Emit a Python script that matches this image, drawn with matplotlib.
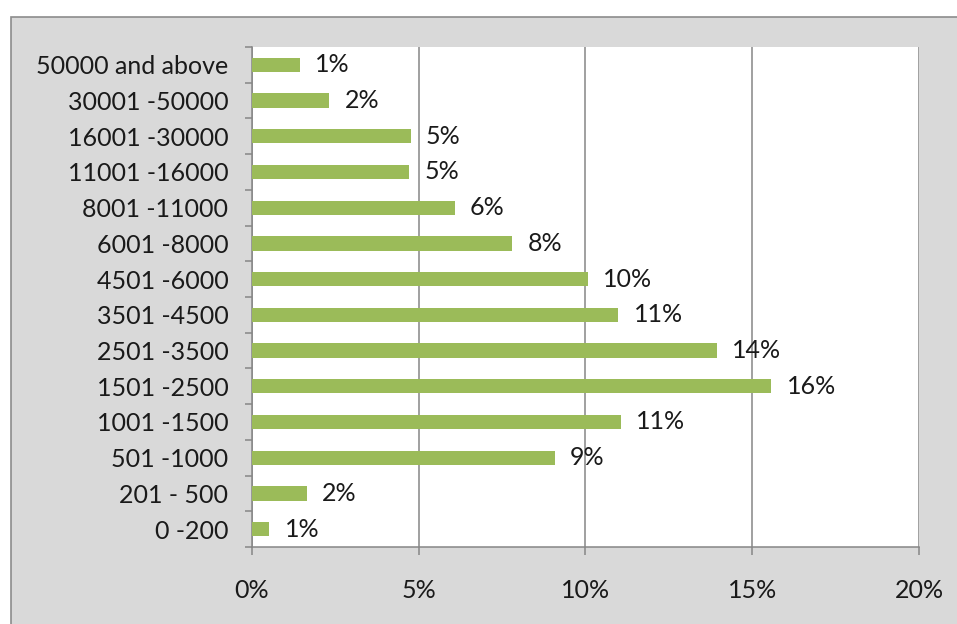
import matplotlib
matplotlib.use("Agg")
import matplotlib.pyplot as plt
from matplotlib.patches import Rectangle

# income bands, top of chart first
bands = ["50000 and above", "30001 -50000", "16001 -30000", "11001 -16000",
         "8001 -11000", "6001 -8000", "4501 -6000", "3501 -4500",
         "2501 -3500", "1501 -2500", "1001 -1500", "501 -1000",
         "201 - 500", "0 -200"]
share = [1.44, 2.32, 4.76, 4.71, 6.08, 7.80, 10.07, 10.98,
         13.93, 15.57, 11.05, 9.08, 1.64, 0.52]
share_labels = ["1%", "2%", "5%", "5%", "6%", "8%", "10%", "11%",
                "14%", "16%", "11%", "9%", "2%", "1%"]
xticks = [0, 5, 10, 15, 20]

plt.rcParams['font.family'] = ['Lato', 'DejaVu Sans']
txt = '#1a1a1a'
grey = '#868686'

fig = plt.figure(figsize=(9.57, 6.24), dpi=100)
fig.patch.set_facecolor('white')
# grey chart area with border (runs off the right/bottom edge)
fig.patches.append(Rectangle((0.0115, -0.1), 1.2, 1.0728, transform=fig.transFigure,
                             facecolor='#d9d9d9', edgecolor='#8c8c8c', lw=1.2, zorder=-1))

ax = fig.add_axes([0.2633, 0.1234, 0.9603 - 0.2633, 0.9247 - 0.1234])
ax.set_zorder(2)
ax.set_facecolor('white')

n = len(bands)
ypos = list(range(n - 1, -1, -1))
ax.barh(ypos, share, height=0.4, color='#9BBB59', zorder=3)

for y, v, lab in zip(ypos, share, share_labels):
    ax.annotate(lab, (v, y), xytext=(11, 0), textcoords='offset points',
                va='center', ha='left', fontsize=18, color=txt)

ax.set_xlim(0, 20)
ax.set_ylim(-0.5, n - 0.5)
ax.set_xticks(xticks)
ax.set_xticklabels([f"{t}%" for t in xticks], fontsize=18, color=txt)
ax.xaxis.grid(True, color=grey, lw=1.1)
ax.set_axisbelow(True)

ax.set_yticks(ypos)
ax.set_yticklabels(bands, fontsize=18, color=txt)
ax.set_yticks([i - 0.5 for i in range(n + 1)], minor=True)
ax.tick_params(axis='y', which='major', length=0, pad=17)
ax.tick_params(axis='y', which='minor', length=5, width=1.1, color=grey)
ax.tick_params(axis='x', length=6, width=1.1, color=grey, pad=17)

for s in ['top', 'right']:
    ax.spines[s].set_visible(False)
for s in ['left', 'bottom']:
    ax.spines[s].set_color(grey)
    ax.spines[s].set_linewidth(1.1)

fig.savefig("out.png", dpi=100)
